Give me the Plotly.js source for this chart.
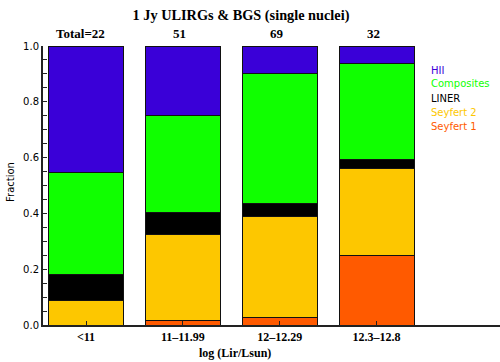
<!DOCTYPE html>
<html>
<head>
<meta charset="utf-8">
<script src="https://cdn.plot.ly/plotly-3.0.1.min.js"></script>
<style>html,body{margin:0;padding:0;background:#fff;}#chart{width:500px;height:362px;}</style>
</head>
<body>
<div id="chart"></div>
<script>
const categories = ['<11', '11\u201311.99', '12\u201312.29', '12.3\u201312.8'];
const totals = ['Total=22', '51', '69', '32'];
const seyfert1 = [0, 0.017, 0.028, 0.25];
const seyfert2 = [0.089, 0.309, 0.362, 0.3125];
const liner = [0.093, 0.078, 0.044, 0.031];
const composites = [0.364, 0.348, 0.466, 0.344];
const hii = [0.454, 0.248, 0.100, 0.0625];
const seriesNames = ['Seyfert 1', 'Seyfert 2', 'LINER', 'Composites', 'HII'];
const seriesColors = ['#ff5a00', '#fdc700', '#000000', '#10ff00', '#3a00d8'];
const legendColors = ['#ff5a00', '#fdc700', '#000000', '#10ff00', '#3a00d8'];
const seriesValues = [seyfert1, seyfert2, liner, composites, hii];

const xIdx = categories.map((c, i) => i);
const traces = seriesValues.map((vals, k) => ({
  type: 'bar',
  x: xIdx,
  y: vals,
  name: seriesNames[k],
  width: 0.775,
  marker: {color: seriesColors[k], line: {color: '#111', width: 1}},
  hoverinfo: 'none'
}));

const annotations = [];
totals.forEach((t, i) => {
  annotations.push({
    x: i, xref: 'x', y: 1, yref: 'paper', yanchor: 'bottom', yshift: 3,
    xshift: i === 0 ? -6 : -3,
    text: '<b>' + t + '</b>', showarrow: false,
    font: {family: 'Liberation Serif', size: 13, color: '#000'}
  });
});
// legend as colored text (top to bottom: HII ... Seyfert 1)
for (let j = 0; j < seriesNames.length; j++) {
  const k = seriesNames.length - 1 - j;
  annotations.push({
    x: (429 - 43) / 457, xref: 'paper', xanchor: 'left',
    y: (325 - 70 - j * 14) / 279, yref: 'paper', yanchor: 'middle',
    text: seriesNames[k], showarrow: false,
    font: {family: 'DejaVu Sans', size: 10, color: legendColors[k]}
  });
}
annotations.push({
  x: (234.5 - 43) / 457, xref: 'paper', xanchor: 'center',
  y: 0, yref: 'paper', yanchor: 'middle', yshift: -28,
  text: '<b>log (Lir/Lsun)</b>', showarrow: false,
  font: {family: 'Liberation Serif', size: 12, color: '#000'}
});
annotations.push({
  x: 0, xref: 'paper', xanchor: 'center', xshift: -33,
  y: (325 - 182) / 279, yref: 'paper', yanchor: 'middle',
  text: 'Fraction', textangle: -90, showarrow: false,
  font: {family: 'DejaVu Sans', size: 10, color: '#000'}
});

const layout = {
  width: 500, height: 362,
  margin: {l: 43, r: 0, t: 46, b: 37, pad: 0},
  paper_bgcolor: '#fff', plot_bgcolor: '#fff',
  barmode: 'stack',
  showlegend: false,
  title: {
    text: '<b>1 Jy ULIRGs & BGS (single nuclei)</b>',
    x: 241 / 500, xref: 'container', xanchor: 'center',
    y: 1 - 15 / 362, yref: 'container', yanchor: 'middle',
    font: {family: 'Liberation Serif', size: 14.3, color: '#000'}
  },
  xaxis: {
    range: [-0.444, 4.275],
    tickmode: 'array', tickvals: xIdx, ticktext: categories,
    ticks: 'inside', ticklen: 4, tickwidth: 1, tickcolor: '#222',
    showline: true, linecolor: '#222', linewidth: 2,
    showgrid: false, zeroline: false,
    tickfont: {family: 'Liberation Serif', size: 12, color: '#000', weight: 'bold'}
  },
  yaxis: {
    range: [0, 1.0],
    tickmode: 'linear', tick0: 0, dtick: 0.2, tickformat: '.1f',
    ticks: 'inside', ticklen: 4, tickwidth: 1, tickcolor: '#222',
    minor: {dtick: 0.05, ticks: 'inside', ticklen: 4, tickwidth: 1, tickcolor: '#222', showgrid: false},
    showline: true, linecolor: '#222', linewidth: 2,
    showgrid: false, zeroline: false,
    tickfont: {family: 'DejaVu Sans', size: 10, color: '#000'}
  },
  annotations: annotations
};

Plotly.newPlot('chart', traces, layout, {staticPlot: true, displayModeBar: false});
</script>
</body>
</html>
